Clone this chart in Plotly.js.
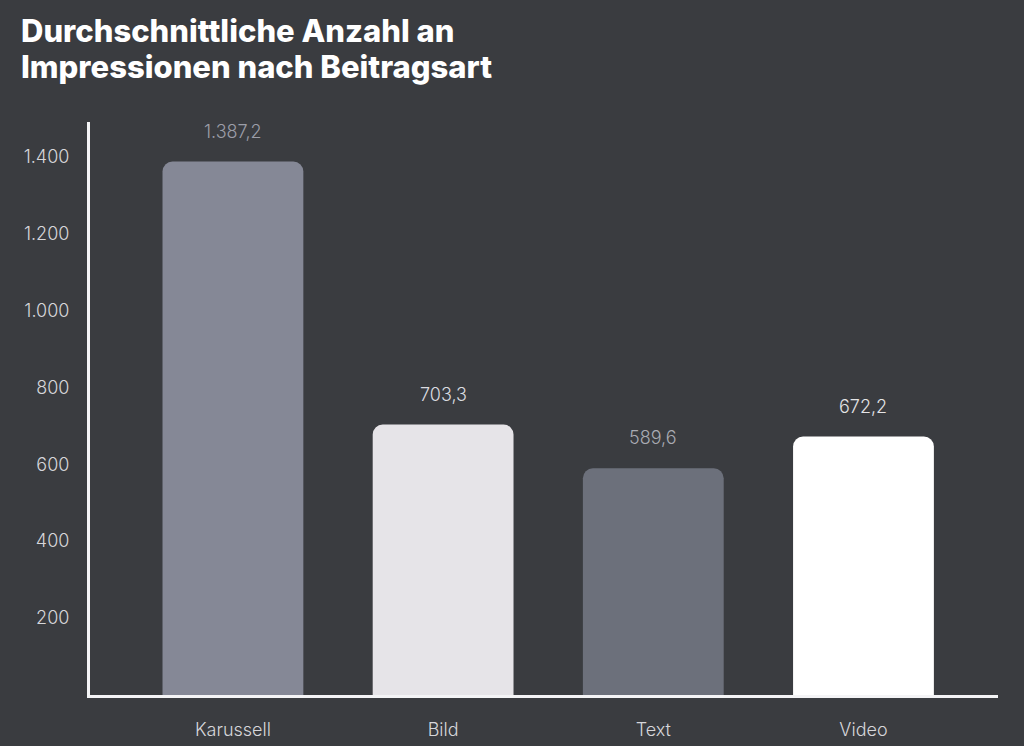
<!DOCTYPE html>
<html>
<head>
<meta charset="utf-8">
<script src="https://cdn.plot.ly/plotly-3.0.1.min.js"></script>
<style>
  html, body { margin: 0; padding: 0; background: #3a3c40; }
  #chart { width: 1024px; height: 746px; }
</style>
</head>
<body>
<div id="chart"></div>
<script>
// values
var categories = ["Karussell", "Bild", "Text", "Video"];
var impressions = [1387.2, 703.3, 589.6, 672.2];
var barColors = ["#858896", "#e6e4e8", "#6c707b", "#ffffff"];
var labelColors = ["#9c9ea8", "#dcdce0", "#a9abb3", "#e4e4e6"];
var yTicks = [200, 400, 600, 800, 1000, 1200, 1400];
var titleLines = ["Durchschnittliche Anzahl an", "Impressionen nach Beitragsart"];

// german number format: 1.387,2
function fmt(v) {
    var parts = v.toFixed(1).split(".");
    var intPart = parts[0].replace(/\B(?=(\d{3})+(?!\d))/g, ".");
    return intPart + "," + parts[1];
}

var data = [{
    type: "bar",
    x: categories,
    y: impressions,
    width: 0.67,
    marker: { color: barColors, line: { width: 0 } },
    hoverinfo: "none"
}];

var annotations = [];
for (var i = 0; i < categories.length; i++) {
    annotations.push({
        x: categories[i],
        y: impressions[i],
        xref: "x",
        yref: "y",
        text: fmt(impressions[i]),
        showarrow: false,
        yanchor: "bottom",
        yshift: 18,
        font: { family: "Inter, sans-serif", size: 18, weight: 300, color: labelColors[i] }
    });
}

// title as two lines, plot area is 908 x 573 px starting at (90, 122)
var titleY = [1.160, 1.097];
for (var k = 0; k < titleLines.length; k++) {
    annotations.push({
        xref: "paper",
        yref: "paper",
        x: -71 / 908,
        y: titleY[k],
        xanchor: "left",
        yanchor: "middle",
        showarrow: false,
        text: titleLines[k],
        font: { family: "Inter, sans-serif", size: 31, color: "#ffffff", weight: 800 }
    });
}

var layout = {
    width: 1024,
    height: 746,
    paper_bgcolor: "#3a3c40",
    plot_bgcolor: "#3a3c40",
    separators: ",.",
    barcornerradius: 10,
    showlegend: false,
    margin: { l: 90, r: 26, t: 122, b: 51 },
    xaxis: {
        type: "category",
        range: [-0.68, 3.64],
        showgrid: false,
        zeroline: false,
        showline: true,
        linecolor: "#f4f4f6",
        linewidth: 3,
        ticks: "",
        ticklabelstandoff: 16,
        tickfont: { family: "Inter, sans-serif", size: 18, weight: 300, color: "#d6d6da" },
        fixedrange: true
    },
    yaxis: {
        range: [0, 1490],
        tickvals: yTicks,
        separatethousands: true,
        showgrid: false,
        zeroline: false,
        showline: true,
        linecolor: "#f4f4f6",
        linewidth: 3,
        ticks: "",
        ticklabelstandoff: 14,
        tickfont: { family: "Inter, sans-serif", size: 18, weight: 300, color: "#d6d6da" },
        fixedrange: true
    },
    annotations: annotations
};

Plotly.newPlot("chart", data, layout, { displayModeBar: false, staticPlot: true });
</script>
</body>
</html>
